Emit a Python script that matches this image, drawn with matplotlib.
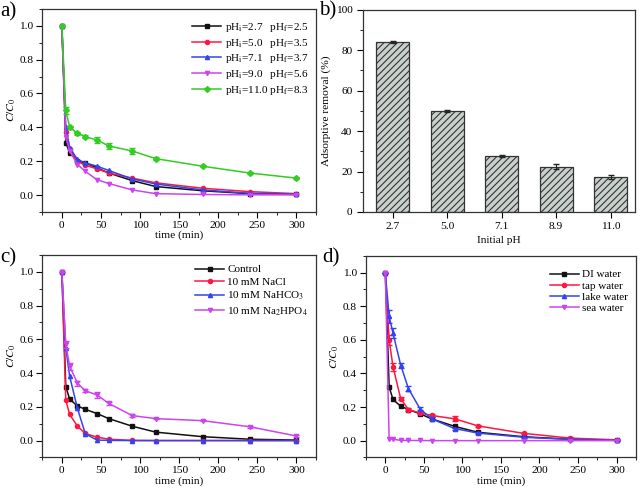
import matplotlib
matplotlib.use('Agg')
from matplotlib import pyplot as plt
from matplotlib.ticker import MultipleLocator
import numpy as np

plt.rcParams['font.family'] = ['Liberation Serif', 'DejaVu Serif']
plt.rcParams['mathtext.fontset'] = 'stix'
plt.rcParams['font.size'] = 8.2
plt.rcParams['hatch.color'] = '#555555'
plt.rcParams['hatch.linewidth'] = 0.8

# time points (min)
t = [0, 5, 10, 20, 30, 45, 60, 90, 120, 180, 240, 300]

# a) effect of initial pH
ph_labels = ['pH$_\\mathrm{i}$=2.7   pH$_\\mathrm{f}$=2.5',
             'pH$_\\mathrm{i}$=5.0   pH$_\\mathrm{f}$=3.5',
             'pH$_\\mathrm{i}$=7.1   pH$_\\mathrm{f}$=3.7',
             'pH$_\\mathrm{i}$=9.0   pH$_\\mathrm{f}$=5.6',
             'pH$_\\mathrm{i}$=11.0 pH$_\\mathrm{f}$=8.3']
ph27 = [1.0, 0.31, 0.25, 0.20, 0.19, 0.16, 0.13, 0.085, 0.05, 0.025, 0.008, 0.003]
ph50 = [1.0, 0.37, 0.27, 0.20, 0.175, 0.155, 0.13, 0.10, 0.072, 0.04, 0.02, 0.008]
ph71 = [1.0, 0.40, 0.28, 0.21, 0.19, 0.17, 0.145, 0.095, 0.065, 0.03, 0.01, 0.005]
ph90 = [1.0, 0.34, 0.26, 0.18, 0.14, 0.09, 0.068, 0.03, 0.008, 0.003, 0.001, 0.001]
ph110 = [1.0, 0.50, 0.40, 0.365, 0.345, 0.325, 0.29, 0.26, 0.215, 0.17, 0.13, 0.10]
ph110_err = [0, 0.02, 0.01, 0.008, 0.008, 0.015, 0.018, 0.015, 0.008, 0.006, 0.005, 0.005]

# b) adsorptive removal vs initial pH
ph_init = ['2.7', '5.0', '7.1', '8.9', '11.0']
removal = [84.2, 49.8, 27.5, 22.3, 17.1]
removal_err = [0.6, 0.5, 0.5, 1.3, 1.0]

# c) effect of co-existing salts
salt_labels = ['Control', '10 mM NaCl', '10 mM NaHCO$_3$', '10 mM Na$_2$HPO$_4$']
control = [1.0, 0.32, 0.245, 0.205, 0.185, 0.16, 0.13, 0.085, 0.05, 0.023, 0.008, 0.003]
nacl = [1.0, 0.24, 0.155, 0.085, 0.042, 0.02, 0.008, 0.001, 0.0, 0.0, 0.0, 0.0]
nahco3 = [1.0, 0.55, 0.38, 0.19, 0.04, 0.003, 0.001, 0.0, 0.0, 0.0, 0.0, 0.0]
na2hpo4 = [1.0, 0.57, 0.44, 0.34, 0.295, 0.27, 0.22, 0.148, 0.13, 0.118, 0.082, 0.027]
na2hpo4_err = [0, 0.02, 0.02, 0.015, 0.01, 0.015, 0.01, 0.008, 0.005, 0.005, 0.005, 0.005]

# d) different water matrices
water_labels = ['DI water', 'tap water', 'lake water', 'sea water']
di = [1.0, 0.32, 0.245, 0.205, 0.185, 0.16, 0.13, 0.085, 0.05, 0.023, 0.008, 0.003]
tap = [1.0, 0.60, 0.44, 0.25, 0.185, 0.165, 0.15, 0.13, 0.088, 0.043, 0.015, 0.005]
tap_err = [0, 0.03, 0.025, 0.01, 0.008, 0.008, 0.008, 0.015, 0.006, 0.005, 0.005, 0.003]
lake = [1.0, 0.74, 0.64, 0.45, 0.31, 0.19, 0.13, 0.072, 0.045, 0.02, 0.008, 0.002]
lake_err = [0, 0.04, 0.03, 0.015, 0.015, 0.01, 0.008, 0.006, 0.005, 0.004, 0.003, 0.002]
sea = [1.0, 0.012, 0.008, 0.002, 0.001, 0.001, 0.0, 0.0, 0.0, 0.0, 0.0, 0.0]

black = '#111111'
red = '#ff1744'
blue = '#3344ee'
magenta = '#cc44ee'
green = '#33cc22'


def style_time_axis(ax):
    ax.set_xlim(-25, 325)
    ax.set_ylim(-0.1, 1.1)
    ax.xaxis.set_major_locator(MultipleLocator(50))
    ax.xaxis.set_minor_locator(MultipleLocator(25))
    ax.yaxis.set_major_locator(MultipleLocator(0.2))
    ax.yaxis.set_minor_locator(MultipleLocator(0.1))
    ax.yaxis.set_major_formatter(matplotlib.ticker.FormatStrFormatter('%.1f'))
    ax.tick_params(which='both', direction='out')
    ax.tick_params(which='major', length=4, pad=2.5)
    ax.tick_params(which='minor', length=2)
    ax.set_xlabel('time (min)', labelpad=0.5)
    ax.set_ylabel('$C/C_0$', labelpad=1)


def curve(ax, y, color, marker, label, err=None):
    ax.plot(t, y, color=color, marker=marker, markersize=3,
            linewidth=1.1, label=label)
    if err is not None:
        ax.errorbar(t, y, yerr=err, fmt='none', ecolor=color,
                    capsize=2, elinewidth=0.8)


def legend(ax, spacing, top):
    ax.legend(loc='upper right', frameon=False, fontsize=8, handlelength=2.6,
              handletextpad=0.3, labelspacing=spacing, borderaxespad=0.3,
              bbox_to_anchor=(1.0, top))


fig = plt.figure(figsize=(6.41, 4.94), dpi=100)

# panel a
ax1 = fig.add_axes([0.066, 0.571, 0.427, 0.411])
curve(ax1, ph27, black, 's', ph_labels[0])
curve(ax1, ph50, red, 'o', ph_labels[1])
curve(ax1, ph71, blue, '^', ph_labels[2])
curve(ax1, ph90, magenta, 'v', ph_labels[3])
curve(ax1, ph110, green, 'D', ph_labels[4], ph110_err)
style_time_axis(ax1)
legend(ax1, 0.25, 0.98)

# panel b
ax2 = fig.add_axes([0.566, 0.571, 0.425, 0.409])
x = np.arange(len(ph_init))
ax2.bar(x, removal, width=0.6, color='#c9d1cd', edgecolor='#333333',
        linewidth=0.9, hatch='/////', yerr=removal_err, capsize=2.5,
        error_kw=dict(elinewidth=0.8, ecolor='#222222'))
ax2.set_xticks(x)
ax2.set_xticklabels(ph_init)
ax2.set_xlim(-0.55, 4.45)
ax2.set_ylim(0, 100)
ax2.yaxis.set_major_locator(MultipleLocator(20))
ax2.yaxis.set_minor_locator(MultipleLocator(10))
ax2.tick_params(which='both', direction='out')
ax2.tick_params(which='major', length=4)
ax2.tick_params(which='minor', length=2)
ax2.set_xlabel('Initial pH', labelpad=3)
ax2.set_ylabel('Adsorptive removal (%)', labelpad=3)

# panel c
ax3 = fig.add_axes([0.066, 0.074, 0.427, 0.410])
curve(ax3, control, black, 's', salt_labels[0])
curve(ax3, nacl, red, 'o', salt_labels[1])
curve(ax3, nahco3, blue, '^', salt_labels[2])
curve(ax3, na2hpo4, magenta, 'v', salt_labels[3], na2hpo4_err)
style_time_axis(ax3)
legend(ax3, 0.25, 0.99)

# panel d
ax4 = fig.add_axes([0.571, 0.074, 0.421, 0.408])
curve(ax4, di, black, 's', water_labels[0])
curve(ax4, tap, red, 'o', water_labels[1], tap_err)
curve(ax4, lake, blue, '^', water_labels[2], lake_err)
curve(ax4, sea, magenta, 'v', water_labels[3])
style_time_axis(ax4)
legend(ax4, 0.12, 0.97)

for ax in (ax1, ax2, ax3, ax4):
    for sp in ax.spines.values():
        sp.set_linewidth(0.9)
        sp.set_color('#333333')

fig.text(0.0, 0.995, 'a)', fontsize=15, va='top')
fig.text(0.498, 0.998, 'b)', fontsize=15, va='top')
fig.text(0.0, 0.497, 'c)', fontsize=15, va='top')
fig.text(0.502, 0.497, 'd)', fontsize=15, va='top')

fig.savefig('out.png', dpi=100)
